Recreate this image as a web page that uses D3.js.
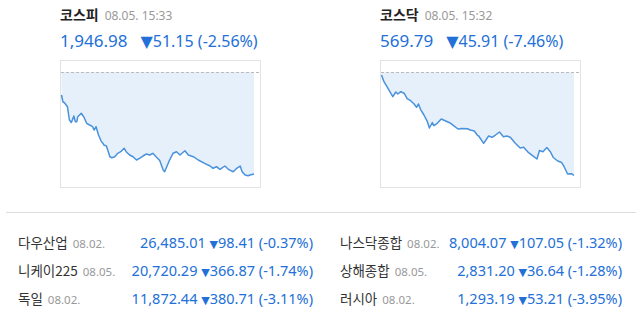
<!DOCTYPE html>
<html>
<head>
<meta charset="utf-8">
<script src="https://cdn.jsdelivr.net/npm/d3@7"></script>
<style>
  body { margin: 0; background: #fff; }
  svg { display: block; font-family: "Noto Sans CJK KR", "Noto Sans", sans-serif; }
</style>
</head>
<body>
<div id="chart"></div>
<script>
// intraday data (minutes after 09:00, index value)
var kospiTimes = [0,3,6,12,16,20,25,28,31,33,40,45,51,57,63,66,70,75,81,84,86,91,98,102,108,114,120,127,131,138,145,152,158,165,172,179,185,192,199,206,209,213,219,226,233,240,250,257,267,277,290,301,307,314,321,331,338,348,355,362,366,372,378,382,390];
var kospiValues = [1986.60,1983.08,1982.73,1980.73,1974.06,1972.80,1976.06,1973.21,1973.21,1975.71,1977.42,1975.71,1972.40,1971.55,1970.70,1969.04,1970.70,1966.54,1963.18,1962.37,1961.52,1961.02,1955.65,1955.15,1955.65,1957.36,1958.16,1959.87,1958.16,1956.51,1955.65,1954.00,1954.85,1956.00,1957.01,1956.51,1957.36,1955.50,1953.75,1948.98,1948.13,1950.49,1954.00,1957.36,1958.16,1956.51,1958.66,1956.51,1955.65,1954.00,1952.34,1950.99,1949.84,1950.64,1949.33,1950.99,1949.33,1948.13,1949.84,1950.99,1948.13,1946.48,1946.12,1946.48,1946.98];
var kosdaqTimes = [0,5,12,19,23,29,33,39,46,52,59,66,71,75,79,86,93,97,103,106,113,121,130,138,146,155,163,174,180,188,194,197,200,207,217,224,231,239,247,254,261,271,281,288,298,308,315,320,327,335,342,348,357,365,370,377,385,390];
var kosdaqValues = [614.50,611.52,609.03,606.36,604.84,606.94,606.05,607.07,606.36,604.04,603.06,601.60,600.13,601.60,599.24,596.70,593.72,590.92,593.37,591.94,593.01,594.92,594.03,593.28,591.94,590.47,590.70,590.61,590.03,589.58,587.80,587.36,586.34,584.11,587.36,586.78,587.80,589.14,587.05,587.36,586.78,584.11,582.02,582.33,579.93,578.33,577.13,580.91,580.38,582.24,580.38,577.79,576.24,575.57,573.70,570.45,570.59,569.79];

var kospiPrev = 1998.13, kosdaqPrev = 615.70;
var kospiDomain = [1940.96, 2003.15];
var kosdaqDomain = [565.12, 620.28];

var indexNames = ["코스피", "코스닥"];
var indexTimes = ["08.05. 15:33", "08.05. 15:32"];
var indexPrices = ["1,946.98", "569.79"];
var indexChanges = ["51.15", "45.91"];
var indexRates = ["(-2.56%)", "(-7.46%)"];

var worldNames = ["다우산업", "니케이225", "독일", "나스닥종합", "상해종합", "러시아"];
var worldDates = ["08.02.", "08.05.", "08.02.", "08.02.", "08.05.", "08.02."];
var worldPrices = ["26,485.01", "20,720.29", "11,872.44", "8,004.07", "2,831.20", "1,293.19"];
var worldChanges = ["98.41", "366.87", "380.71", "107.05", "36.64", "53.21"];
var worldRates = ["(-0.37%)", "(-1.74%)", "(-3.11%)", "(-1.32%)", "(-1.28%)", "(-3.95%)"];

var blue = "#2270d8";
var width = 640, height = 317;

var svg = d3.select("#chart").append("svg")
    .attr("width", width)
    .attr("height", height);

function drawIndex(i, ox, times, values, prev, domain) {
    var g = svg.append("g");

    // header
    var title = g.append("text")
        .attr("x", ox).attr("y", 20)
        .attr("font-size", 14).attr("font-weight", "bold").attr("fill", "#222")
        .text(indexNames[i]);
    var tw = title.node().getComputedTextLength();
    g.append("text")
        .attr("x", ox + tw + 6).attr("y", 20)
        .attr("font-size", 12).attr("fill", "#999")
        .attr("font-family", "Noto Sans, sans-serif")
        .text(indexTimes[i]);

    var price = g.append("text")
        .attr("x", ox).attr("y", 47)
        .attr("font-size", 17).attr("fill", blue)
        .attr("font-family", "Noto Sans, sans-serif")
        .text(indexPrices[i]);
    var pw = price.node().getComputedTextLength();
    var chg = g.append("text")
        .attr("x", ox + pw + 13).attr("y", 47)
        .attr("font-size", 16).attr("fill", blue)
        .attr("font-family", "Noto Sans, sans-serif");
    chg.append("tspan").attr("font-size", 16).attr("font-family", "DejaVu Sans").text("▼");
    chg.append("tspan").text(indexChanges[i] + "  " + indexRates[i]);

    // frame
    g.append("rect")
        .attr("x", ox + 0.5).attr("y", 60.5)
        .attr("width", 200).attr("height", 127)
        .attr("fill", "#fff").attr("stroke", "#e3e3e3");

    var x = d3.scaleLinear().domain([0, 390]).range([ox + 1.5, ox + 194]);
    var y = d3.scaleLinear().domain(domain).range([186, 62]);

    var area = d3.area()
        .x(function (d, k) { return x(times[k]); })
        .y0(y(prev))
        .y1(function (d) { return y(d); });
    var line = d3.line()
        .x(function (d, k) { return x(times[k]); })
        .y(function (d) { return y(d); });

    g.append("path").datum(values)
        .attr("d", area)
        .attr("fill", "#e6f0fb");

    g.append("line")
        .attr("x1", ox + 1).attr("x2", ox + 200)
        .attr("y1", Math.round(y(prev)) + 0.5).attr("y2", Math.round(y(prev)) + 0.5)
        .attr("stroke", "#bbb").attr("stroke-dasharray", "3,2");

    g.append("path").datum(values)
        .attr("d", line)
        .attr("fill", "none")
        .attr("stroke", "#4a92db")
        .attr("stroke-width", 1.5)
        .attr("stroke-linejoin", "round");
}

drawIndex(0, 60, kospiTimes, kospiValues, kospiPrev, kospiDomain);
drawIndex(1, 380, kosdaqTimes, kosdaqValues, kosdaqPrev, kosdaqDomain);

// separator
svg.append("line")
    .attr("x1", 6).attr("x2", 636)
    .attr("y1", 212.5).attr("y2", 212.5)
    .attr("stroke", "#ddd");

// world indices table
var rowY = [248, 276, 304];
worldNames.forEach(function (name, i) {
    var col = Math.floor(i / 3), r = i % 3;
    var nx = col === 0 ? 18 : 340;
    var rx = col === 0 ? 313 : 622;
    var n = svg.append("text")
        .attr("x", nx).attr("y", rowY[r])
        .attr("font-size", 13.5).attr("fill", "#333")
        .text(name);
    var nw = n.node().getComputedTextLength();
    svg.append("text")
        .attr("x", nx + nw + 5).attr("y", rowY[r])
        .attr("font-size", 11.5).attr("fill", "#999")
        .attr("font-family", "Noto Sans, sans-serif")
        .text(worldDates[i]);
    var v = svg.append("text")
        .attr("x", rx).attr("y", rowY[r])
        .attr("text-anchor", "end")
        .attr("font-size", 14.5).attr("fill", blue)
        .attr("font-family", "Noto Sans, sans-serif");
    v.append("tspan").text(worldPrices[i] + "  ");
    v.append("tspan").attr("font-size", 11).attr("font-family", "DejaVu Sans").text("▼");
    v.append("tspan").text(worldChanges[i] + " " + worldRates[i]);
});
</script>
</body>
</html>
